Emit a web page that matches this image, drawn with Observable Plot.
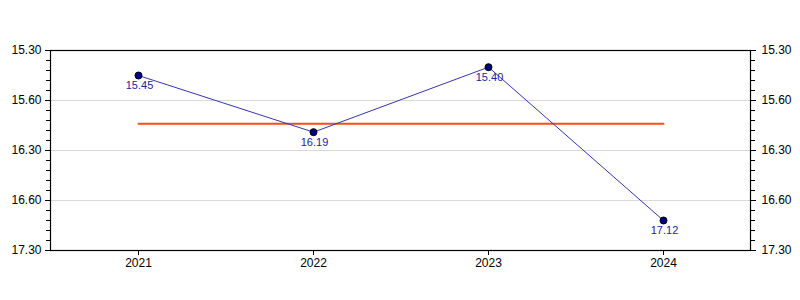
<!DOCTYPE html>
<html>
<head>
<meta charset="utf-8">
<script src="https://cdn.jsdelivr.net/npm/d3@7"></script>
<script src="https://cdn.jsdelivr.net/npm/@observablehq/plot@0.6"></script>
<style>
  html, body { margin: 0; padding: 0; background: #fff; }
</style>
</head>
<body>
<div id="chart"></div>
<script>
// Data (times shown as minutes.seconds)
const years = ["2021", "2022", "2023", "2024"];
const times = ["15.45", "16.19", "15.40", "17.12"];
// Y axis ticks (seconds) and their labels as shown
const tickSeconds = [930, 960, 990, 1020, 1050];
const tickLabels = ["15.30", "15.60", "16.30", "16.60", "17.30"];
const minorStep = 6;

const toSec = s => { const [m, sec] = s.split("."); return +m * 60 + +sec; };
const data = years.map((yr, i) => ({year: yr, label: times[i], sec: toSec(times[i])}));
const avg = d3.mean(data, d => d.sec);
const avgData = [{year: years[0], sec: avg}, {year: years[years.length - 1], sec: avg}];
const minorTicks = d3.range(tickSeconds[0], tickSeconds[tickSeconds.length - 1] + 0.001, minorStep);
const fmt = v => { const i = tickSeconds.indexOf(v); return i >= 0 ? tickLabels[i] : ""; };

const chart = Plot.plot({
  width: 800,
  height: 300,
  marginLeft: 50,
  marginRight: 50,
  marginTop: 50,
  marginBottom: 50,
  style: {fontFamily: "'Liberation Sans', Arial, sans-serif", fontSize: "12px", color: "black", background: "white"},
  x: {type: "point", domain: years, padding: 0.5, range: [50, 750]},
  y: {domain: [tickSeconds[tickSeconds.length - 1], tickSeconds[0]]},
  marks: [
    Plot.gridY(tickSeconds, {stroke: "#d9d9d9", strokeOpacity: 1}),
    Plot.frame({stroke: "black", strokeWidth: 1.2}),
    Plot.axisY(minorTicks, {anchor: "left", tickSize: 4, text: null, label: null, stroke: "black"}),
    Plot.axisY(minorTicks, {anchor: "right", tickSize: 4, text: null, label: null, stroke: "black"}),
    Plot.axisY(tickSeconds, {anchor: "left", tickSize: 5, tickPadding: 4, tickFormat: fmt, label: null, fontSize: 12, fill: "black"}),
    Plot.axisY(tickSeconds, {anchor: "right", tickSize: 5, tickPadding: 6, tickFormat: fmt, label: null, fontSize: 12, fill: "black"}),
    Plot.axisX(years, {tickSize: 5, tickPadding: 3, label: null, fontSize: 12, fill: "black"}),
    Plot.line(avgData, {x: "year", y: "sec", stroke: "#ff4d14", strokeWidth: 2}),
    Plot.line(data, {x: "year", y: "sec", stroke: "#3535b0", strokeWidth: 1}),
    Plot.dot(data, {x: "year", y: "sec", r: 3.5, fill: "#000080", stroke: "black", strokeWidth: 1}),
    Plot.text(data, {x: "year", y: "sec", text: "label", dy: 10, dx: 1, fill: "#24249a", fontSize: 11})
  ]
});
document.getElementById("chart").appendChild(chart);
</script>
</body>
</html>
